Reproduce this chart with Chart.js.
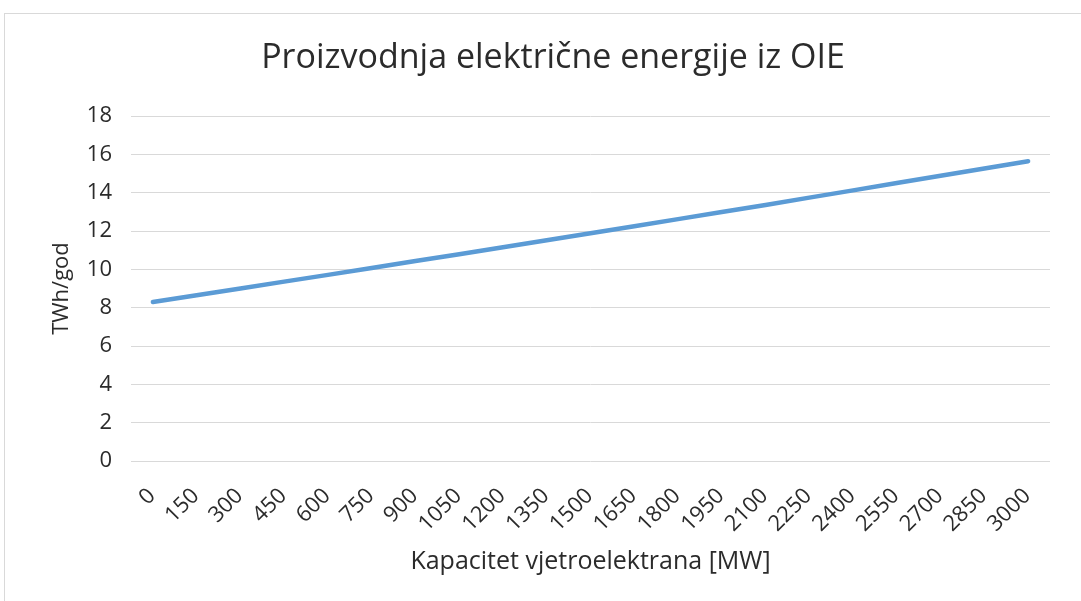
<!DOCTYPE html>
<html>
<head>
<meta charset="utf-8">
<script src="https://cdn.jsdelivr.net/npm/chart.js@4/dist/chart.umd.min.js"></script>
<style>
    html, body { margin: 0; padding: 0; background: #fff; overflow: hidden; }
    #frame {
        position: absolute; left: 4px; top: 13px; width: 1200px; height: 700px;
        border-left: 1px solid #d9d9d9; border-top: 1px solid #d9d9d9;
    }
    #chart { position: absolute; left: 0; top: 0; }
</style>
</head>
<body>
<div id="frame"></div>
<canvas id="chart" width="1081" height="601"></canvas>
<script>
// Kapacitet vjetroelektrana (MW)
const capacities = ['0', '150', '300', '450', '600', '750', '900', '1050', '1200', '1350', '1500',
    '1650', '1800', '1950', '2100', '2250', '2400', '2550', '2700', '2850', '3000'];

// Proizvodnja iz OIE (TWh/god)
const production = [8.30, 8.65, 9.00, 9.36, 9.71, 10.07, 10.43, 10.79, 11.15, 11.52, 11.88,
    12.25, 12.62, 12.99, 13.36, 13.74, 14.12, 14.50, 14.88, 15.26, 15.64];

const yTicks = [0, 2, 4, 6, 8, 10, 12, 14, 16, 18];

const textColor = '#2b2b2b';
const gridColor = '#d9d9d9';
const fontFamily = '"Open Sans", sans-serif';

new Chart(document.getElementById('chart'), {
    type: 'line',
    data: {
        labels: capacities,
        datasets: [{
            label: 'Proizvodnja',
            data: production,
            borderColor: '#5b9bd5',
            borderWidth: 4.5,
            borderCapStyle: 'round',
            pointRadius: 0,
            tension: 0,
            fill: false
        }]
    },
    options: {
        responsive: false,
        animation: false,
        layout: {
            padding: { left: 56, right: 31, top: 0, bottom: 0 }
        },
        plugins: {
            legend: { display: false },
            tooltip: { enabled: false },
            title: {
                display: true,
                text: 'Proizvodnja električne energije iz OIE',
                color: textColor,
                font: { family: fontFamily, size: 34, weight: 'normal' },
                padding: { top: 38.1, bottom: 37.1 }
            }
        },
        scales: {
            x: {
                offset: true,
                grid: { display: false },
                border: { display: false },
                ticks: {
                    autoSkip: false,
                    minRotation: 45,
                    maxRotation: 45,
                    padding: 14,
                    labelOffset: -1,
                    color: textColor,
                    font: { family: fontFamily, size: 22 }
                },
                title: {
                    display: true,
                    text: 'Kapacitet vjetroelektrana [MW]',
                    color: textColor,
                    font: { family: fontFamily, size: 25 },
                    padding: { top: 0, bottom: 24 }
                },
                afterFit: (scale) => { scale.height = 140; }
            },
            y: {
                min: 0,
                max: 18,
                grid: { color: gridColor, lineWidth: 1, drawTicks: false },
                border: { display: false },
                afterBuildTicks: (scale) => {
                    scale.ticks = yTicks.map(v => ({ value: v }));
                },
                ticks: {
                    padding: 19,
                    color: textColor,
                    font: { family: fontFamily, size: 22 }
                },
                title: {
                    display: true,
                    text: 'TWh/god',
                    color: textColor,
                    font: { family: fontFamily, size: 22 },
                    padding: { top: -7.2, bottom: 0 }
                },
                afterFit: (scale) => { scale.width = 75; }
            }
        }
    }
});
</script>
</body>
</html>
